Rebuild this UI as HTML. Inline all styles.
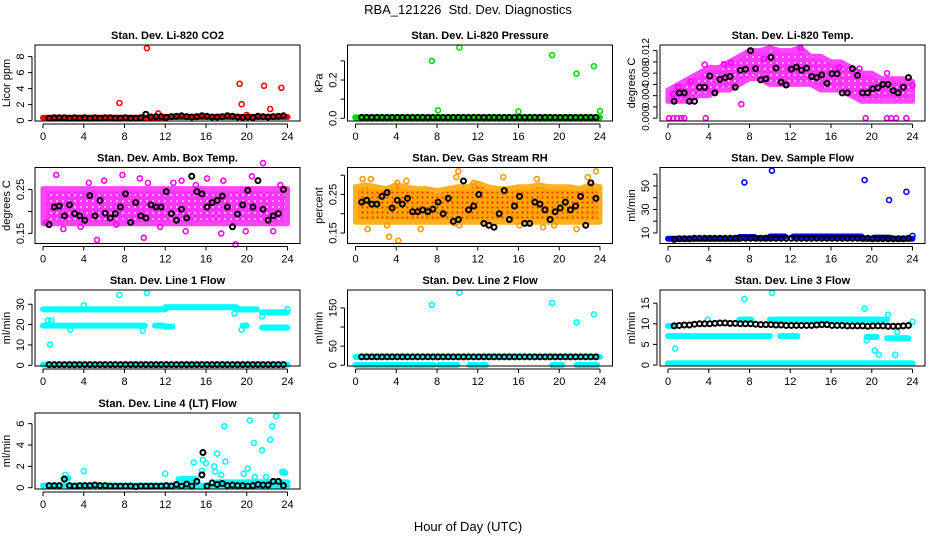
<!DOCTYPE html>
<html><head><meta charset="utf-8"><style>
html,body{margin:0;padding:0;background:#fff;}
svg{display:block;font-family:"Liberation Sans",Arial,sans-serif;}
</style></head><body>
<svg id="chart" width="936" height="540" viewBox="0 0 936 540">
<defs>
<pattern id="pm" width="6" height="6" patternUnits="userSpaceOnUse"><rect width="6" height="6" fill="#ff33ff"/><circle cx="3" cy="3" r="1.1" fill="#ffb0ff"/></pattern>
<pattern id="po" width="5" height="5" patternUnits="userSpaceOnUse"><rect width="5" height="5" fill="#ffa500"/><circle cx="2.5" cy="2.5" r="1" fill="#ff2000"/></pattern>
</defs>
<text x="468" y="14" text-anchor="middle" font-size="13">RBA_121226&#160; Std. Dev. Diagnostics</text>
<text x="468" y="531" text-anchor="middle" font-size="13">Hour of Day (UTC)</text>
<g id="plots"></g>
</svg>
<script>
// shared black-series hours
const blackHours=[0.6,1.1,1.6,2.1,2.6,3.1,3.6,4.1,4.6,5.1,5.6,6.1,6.6,7.1,7.6,8.1,8.6,9.1,9.6,10.1,10.6,11.1,11.6,12.1,12.6,13.1,13.6,14.1,14.6,15.1,15.6,16.1,16.6,17.1,17.6,18.1,18.6,19.1,19.6,20.1,20.6,21.1,21.6,22.1,22.6,23.1,23.6];
const xTicks=[0,4,8,12,16,20,24];
const cloudHours=[0,1,2,3,4,5,6,7,8,9,10,11,12,13,14,15,16,17,18,19,20,21,22,23,24];

// P1 CO2
const co2Black=[0.3,0.35,0.35,0.35,0.3,0.35,0.3,0.35,0.3,0.35,0.3,0.35,0.35,0.3,0.3,0.35,0.3,0.3,0.35,0.8,0.45,0.5,0.5,0.4,0.5,0.55,0.6,0.5,0.45,0.5,0.6,0.55,0.45,0.45,0.5,0.6,0.55,0.45,0.4,0.45,0.4,0.55,0.5,0.45,0.5,0.55,0.6];
const co2BandStart=[0,12];const co2BandEnd=[12,24];const co2BandVal=[0.35,0.45];
const co2OutX=[7.5,10.2,11.3,19.3,19.5,20,21.7,22.3,23.4];
const co2OutY=[2.2,9.05,0.9,4.6,2.05,0.7,4.35,1.45,4.1];
// P2 Pressure
const prBlack=blackHours.map(()=>0.005);
const prBandStart=[0];const prBandEnd=[24];const prBandVal=[0.004];
const prOutX=[7.5,8.1,10.2,16,19.3,21.7,23.4,24,0];
const prOutY=[0.30,0.042,0.37,0.036,0.33,0.233,0.272,0.038,0.005];
// P3 Temp
const tLow=[0.003,0.003,0.003,0.004,0.004,0.005,0.005,0.006,0.007,0.007,0.006,0.006,0.006,0.006,0.006,0.005,0.005,0.005,0.004,0.003,0.003,0.003,0.003,0.003,0.003];
const tHigh=[0.005,0.006,0.007,0.008,0.009,0.009,0.010,0.011,0.012,0.012,0.0125,0.012,0.012,0.0125,0.011,0.011,0.010,0.010,0.009,0.008,0.008,0.007,0.007,0.007,0.0065];
const tOutX=[0.1,0.5,0.9,1.3,1.6,3.7,19.4,21.5,21.9,22.4,23.4,3.6,5.5,6.2,16.8,18.8,7.2,9.4,13,21.5,0.5,1,2.2,24];
const tOutY=[0,0,0,0,0,0,0,0,0,0,0,0.0095,0.0096,0.0098,0.009,0.0088,0.0025,0.0105,0.0125,0.008,0.0043,0.0055,0.0065,0.0058];
const tBlack=[0.003,0.0045,0.0045,0.003,0.003,0.0055,0.0055,0.0075,0.0045,0.0069,0.0072,0.0074,0.0055,0.0085,0.0087,0.012,0.0088,0.0068,0.007,0.0108,0.0089,0.0064,0.0059,0.0087,0.0091,0.0085,0.0089,0.0074,0.0072,0.0077,0.0062,0.0079,0.0079,0.0045,0.0045,0.0088,0.0076,0.0045,0.0045,0.0052,0.0054,0.006,0.006,0.0049,0.0045,0.0055,0.0072];
// P4 Amb box temp
const aLow=cloudHours.map(()=>0.172);
const aHigh=cloudHours.map(()=>0.252);
const aOutX=[1.3,4.5,5.3,6,7.8,9.9,10.3,12.8,13.6,14,16.1,17.7,18.9,19.9,20.5,21.6,22.6,23.3,0.3,3.7,7.2,11.5,17.5,9.5,2,15];
const aOutY=[0.283,0.265,0.135,0.27,0.283,0.14,0.265,0.265,0.27,0.155,0.275,0.27,0.125,0.155,0.28,0.31,0.155,0.26,0.175,0.165,0.17,0.165,0.15,0.275,0.16,0.26];
const aBlack=[0.17,0.21,0.212,0.19,0.215,0.195,0.19,0.18,0.236,0.19,0.225,0.196,0.185,0.195,0.21,0.24,0.175,0.22,0.19,0.185,0.215,0.21,0.21,0.245,0.195,0.18,0.205,0.185,0.28,0.245,0.24,0.21,0.22,0.225,0.235,0.21,0.165,0.194,0.215,0.248,0.21,0.27,0.205,0.18,0.19,0.195,0.25];
// P5 RH
const rLow=cloudHours.map(()=>0.178);
const rHigh=[0.27,0.275,0.27,0.265,0.275,0.27,0.265,0.265,0.26,0.265,0.27,0.27,0.28,0.27,0.265,0.265,0.27,0.27,0.275,0.27,0.27,0.27,0.265,0.275,0.27];
const rOutX=[0.7,1.5,4.1,3.3,4.2,5,6.4,10.1,9.9,11.6,14.5,17.8,18.4,21.7,22.8,23.6,1.2,3.1,9.7,10.2,16.1,22.6,19.5];
const rOutY=[0.29,0.29,0.28,0.14,0.13,0.285,0.16,0.31,0.295,0.28,0.295,0.29,0.165,0.16,0.295,0.31,0.16,0.17,0.175,0.17,0.17,0.17,0.17];
const rBlack=[0.23,0.235,0.225,0.225,0.245,0.255,0.215,0.235,0.225,0.24,0.205,0.205,0.21,0.205,0.212,0.23,0.2,0.24,0.18,0.185,0.285,0.21,0.22,0.25,0.175,0.17,0.165,0.2,0.26,0.185,0.22,0.245,0.175,0.175,0.23,0.225,0.21,0.185,0.205,0.215,0.23,0.21,0.22,0.245,0.17,0.28,0.24];
// P6 Sample flow
const sfBandStart=[0,7,8.5,10,12.3,19,20.2,22];const sfBandEnd=[7,8.5,10,11.5,19,20.2,21.8,24];const sfBandVal=[5,6.5,5.5,7,7,5,6,5];
const sfOutX=[7.5,10.2,19.3,21.7,23.4,24];const sfOutY=[53,63,55,38,45,7.5];
const sfBlack=[4.5,5,5,5,5.5,5.5,5.5,5.5,5.5,5.5,5.5,5.5,5.5,5.5,5.5,5.5,5.5,5.5,5.5,5.5,5.5,5.5,5.5,5.5,5.5,5.5,5.5,5.5,5.5,5.5,5.5,5.5,5.5,5.5,5.5,5.5,5.5,5.5,5.5,5,5,5,5,5,5,5,5.5];
// P7 Line 1 flow
const l1BandStart=[0,12,19,21.5,0,11,12,19.6,21.5,0];const l1BandEnd=[12,19,21,24,10,11.8,12.7,20,24,24];const l1BandVal=[27.5,28.5,27.5,26,19.5,19.5,19,19.5,18.5,0.3];
const l1OutX=[0.5,0.8,0.7,7.5,10.2,21.5,9.8,19.5,2.7,24,4,18.8];const l1OutY=[22,22,10.2,34.5,35.5,24,17,17.5,17.5,27.5,29.5,25.5];
const l1Black=blackHours.map(()=>0.3);
// P8 Line 2 flow
const l2BandStart=[0,0,8.2,11.2,12.3,19.3,21.7];const l2BandEnd=[24,7.7,10,12,12.8,20.3,23.7];const l2BandVal=[22,0.5,0.5,0.5,0.5,0.5,0.5];
const l2OutX=[7.5,10.2,19.3,21.7,23.4];const l2OutY=[158,190,163,112,133];
const l2Black=blackHours.map(()=>22);
// P9 Line 3 flow
const l3BandStart=[7,10,0,11,19.5,21.5,0,0];const l3BandEnd=[8.2,21.5,10,12.7,20.5,23.6,24,0.5];const l3BandVal=[11,11,7,7,6.8,6.5,0.4,9.5];
const l3OutX=[0.7,7.5,10.2,19.3,21.6,20.3,20.7,22.3,22.5,3.9,24,19.5];const l3OutY=[4,16,17.5,13.7,12.2,3.5,2.5,2.5,8,11,10.5,6];
const l3Black=[9.5,9.6,9.7,9.7,9.9,10,10,10,10.1,10.2,10.2,10.1,10.1,10,10,10,9.9,9.8,9.8,9.8,9.7,9.7,9.6,9.6,9.6,9.6,9.6,9.6,9.7,9.8,9.8,9.6,9.6,9.6,9.5,9.5,9.5,9.5,9.4,9.5,9.5,9.5,9.4,9.4,9.4,9.5,9.6];
// P10 Line 4 flow
const l4BandStart=[0,2,13.3,17,23.5];const l4BandEnd=[24,2.5,15,24,23.8];const l4BandVal=[0.2,0.9,0.8,0.5,1.4];
const l4OutX=[2.2,4,12,14.8,15.7,15.6,16,16.8,16.9,17.1,17.5,17.8,17.9,19.7,20.3,20.1,20.7,20.8,21.5,21.9,22.3,22.5,22.9,23.5,23.7];
const l4OutY=[1.2,1.55,1.3,2.35,2.6,1.6,2.3,2,1.5,3.2,1.2,5.75,2.45,1.3,6.3,1.8,4.2,1,3.5,1,4.5,5.75,6.7,1.5,1.45];
const l4Black=[0.2,0.2,0.2,0.8,0.2,0.15,0.2,0.2,0.2,0.25,0.2,0.2,0.15,0.15,0.15,0.15,0.15,0.1,0.15,0.15,0.15,0.15,0.15,0.2,0.15,0.3,0.15,0.35,0.15,0.6,1.2,0.15,0.45,0.3,0.4,0.2,0.25,0.2,0.2,0.15,0.2,0.3,0.25,0.25,0.6,0.6,0.2];
const l4BlackOutX=[15.7];const l4BlackOutY=[3.3];

const NS='http://www.w3.org/2000/svg';
const root=document.getElementById('plots');
const colX0=[43,355.5,668];const rowTop=[45,167.5,290,413];const boxH=76;
function mk(tag,attrs,parent){const e=document.createElementNS(NS,tag);for(const k in attrs)e.setAttribute(k,attrs[k]);parent.appendChild(e);return e;}

function panel(p){
  const g=mk('g',{},root);
  
  
  const x0=colX0[p.col],top=rowTop[p.row],bot=top+boxH;
  const left=x0-8,right=x0+257;
  const sx=h=>x0+h*(244.5/24);
  const sy=v=>bot-(v-p.ylim[0])/(p.ylim[1]-p.ylim[0])*boxH;
  const t=mk('text',{x:(left+right)/2,y:top-6,'text-anchor':'middle','font-size':'11','font-weight':'bold'},g);
  t.textContent=p.title;
  
  
  if(p.cloud){
    let pts=[];
    p.cloud.x.forEach((h,i)=>pts.push(sx(h)+','+sy(p.cloud.hi[i])));
    for(let i=p.cloud.x.length-1;i>=0;i--)pts.push(sx(p.cloud.x[i])+','+sy(p.cloud.lo[i]));
    const pg=mk('polygon',{points:pts.join(' '),fill:p.cloud.fill,stroke:p.cloud.edge,'stroke-width':'5','stroke-linejoin':'round'},g);
    
    
  }
  if(p.band){
    p.band.s.forEach((s,i)=>{
      const l=mk('line',{x1:sx(s),x2:sx(p.band.e[i]),y1:sy(p.band.v[i]),y2:sy(p.band.v[i]),stroke:p.color,'stroke-width':'6','stroke-linecap':'round'},g);
      
      
    });
  }
  const ring=(cx,cy,col,sw)=>mk('circle',{cx:cx,cy:cy,r:'2.5',fill:'none',stroke:col,'stroke-width':sw},g);
  p.outX.forEach((h,i)=>{
    const c=ring(sx(h),sy(p.outY[i]),p.outColor||p.color,'1.6');
    
    
  });
  blackHours.forEach((h,i)=>{
    if(p.black[i]===undefined)return;
    const c=ring(sx(h),sy(p.black[i]),'#000','2');
    
    
  });
  if(p.blackOutX)p.blackOutX.forEach((h,i)=>{
    const c=ring(sx(h),sy(p.blackOutY[i]),'#000','2');
    
    
  });
  const r=mk('rect',{x:left,y:top,width:right-left,height:boxH,fill:'none',stroke:'#000','stroke-width':'1'},g);
  
  
  mk('line',{x1:sx(0),x2:sx(24),y1:bot+3,y2:bot+3,stroke:'#000'},g);
  xTicks.forEach(v=>{
    mk('line',{x1:sx(v),x2:sx(v),y1:bot+3,y2:bot+7,stroke:'#000'},g);
    const tx=mk('text',{x:sx(v),y:bot+19,'text-anchor':'middle','font-size':'11'},g);
    tx.textContent=v;
    
    
  });
  const yt=p.yticks;
  const fs=p.yfs||'11';
  mk('line',{x1:left-3,x2:left-3,y1:sy(yt[0]),y2:sy(yt[yt.length-1]),stroke:'#000'},g);
  yt.forEach((v,i)=>{
    mk('line',{x1:left-7,x2:left-3,y1:sy(v),y2:sy(v),stroke:'#000'},g);
    if(p.ylabels[i]){
      const tx=mk('text',{x:left-11,y:sy(v),'text-anchor':'middle','font-size':fs,transform:`rotate(-90 ${left-11} ${sy(v)})`},g);
      tx.textContent=p.ylabels[i];
      
      
    }
  });
  const yl=mk('text',{x:left-25,y:top+boxH/2,'text-anchor':'middle','font-size':'11',transform:`rotate(-90 ${left-25} ${top+boxH/2})`},g);
  yl.textContent=p.ylab;
  
  
}

panel({name:'panel-co2',col:0,row:0,title:'Stan. Dev. Li-820 CO2',ylab:'Licor ppm',ylim:[-0.05,9.45],yticks:[0,2,4,6,8],ylabels:['0','2','4','6','8'],color:'#ff0000',band:{s:co2BandStart,e:co2BandEnd,v:co2BandVal},outX:co2OutX,outY:co2OutY,black:co2Black});
panel({name:'panel-pressure',col:1,row:0,title:'Stan. Dev. Li-820 Pressure',ylab:'kPa',ylim:[-0.014,0.383],yticks:[0,0.1,0.2,0.3],ylabels:['0.0','','0.2',''],color:'#00dd00',band:{s:prBandStart,e:prBandEnd,v:prBandVal},outX:prOutX,outY:prOutY,black:prBlack});
panel({name:'panel-temp',col:2,row:0,title:'Stan. Dev. Li-820 Temp.',ylab:'degrees C',ylim:[-0.0005,0.013],yticks:[0,0.002,0.004,0.006,0.008,0.01,0.012],ylabels:['0.000','','0.004','','0.008','','0.012'],yfs:'10',color:'#ff00ff',cloud:{x:cloudHours,lo:tLow,hi:tHigh,fill:'url(#pm)',edge:'#ff44ff'},outX:tOutX,outY:tOutY,black:tBlack});
panel({name:'panel-amb-temp',col:0,row:1,title:'Stan. Dev. Amb. Box Temp.',ylab:'degrees C',ylim:[0.127,0.30],yticks:[0.15,0.2,0.25],ylabels:['0.15','','0.25'],color:'#ff00ff',cloud:{x:cloudHours,lo:aLow,hi:aHigh,fill:'url(#pm)',edge:'#ff44ff'},outX:aOutX,outY:aOutY,black:aBlack});
panel({name:'panel-rh',col:1,row:1,title:'Stan. Dev. Gas Stream RH',ylab:'percent',ylim:[0.1227,0.32],yticks:[0.15,0.2,0.25,0.3],ylabels:['0.15','','0.25',''],color:'#ffa500',outColor:'#ff9900',cloud:{x:cloudHours,lo:rLow,hi:rHigh,fill:'url(#po)',edge:'#ffb020'},outX:rOutX,outY:rOutY,black:rBlack});
panel({name:'panel-sample-flow',col:2,row:1,title:'Stan. Dev. Sample Flow',ylab:'ml/min',ylim:[1,65.7],yticks:[10,20,30,40,50,60],ylabels:['10','','30','','50',''],color:'#0000ff',band:{s:sfBandStart,e:sfBandEnd,v:sfBandVal},outX:sfOutX,outY:sfOutY,black:sfBlack});
panel({name:'panel-line1-flow',col:0,row:2,title:'Stan. Dev. Line 1 Flow',ylab:'ml/min',ylim:[-0.35,37],yticks:[0,10,20,30],ylabels:['0','10','20','30'],color:'#00ffff',band:{s:l1BandStart,e:l1BandEnd,v:l1BandVal},outX:l1OutX,outY:l1OutY,black:l1Black});
panel({name:'panel-line2-flow',col:1,row:2,title:'Stan. Dev. Line 2 Flow',ylab:'ml/min',ylim:[-2,197],yticks:[0,50,100,150],ylabels:['0','50','','150'],color:'#00ffff',band:{s:l2BandStart,e:l2BandEnd,v:l2BandVal},outX:l2OutX,outY:l2OutY,black:l2Black});
panel({name:'panel-line3-flow',col:2,row:2,title:'Stan. Dev. Line 3 Flow',ylab:'ml/min',ylim:[-0.24,18.2],yticks:[0,5,10,15],ylabels:['0','5','10','15'],color:'#00ffff',band:{s:l3BandStart,e:l3BandEnd,v:l3BandVal},outX:l3OutX,outY:l3OutY,black:l3Black});
panel({name:'panel-line4-flow',col:0,row:3,title:'Stan. Dev. Line 4 (LT) Flow',ylab:'ml/min',ylim:[-0.12,7.0],yticks:[0,2,4,6],ylabels:['0','2','4','6'],color:'#00ffff',band:{s:l4BandStart,e:l4BandEnd,v:l4BandVal},outX:l4OutX,outY:l4OutY,black:l4Black,blackOutX:l4BlackOutX,blackOutY:l4BlackOutY});
</script>
</body></html>
